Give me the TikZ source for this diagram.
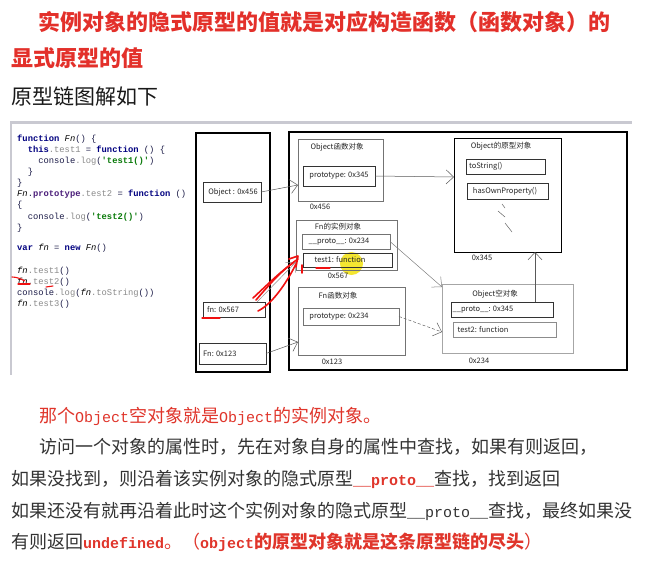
\documentclass[tikz,border=0pt]{standalone}
\usepackage{fontspec}
\setmainfont{Noto Sans CJK SC}
\newfontfamily\codefont{Liberation Mono}
\usetikzlibrary{arrows.meta,calc}
\definecolor{titlered}{HTML}{E3302A}
\definecolor{txtred}{HTML}{E0352B}
\definecolor{kwblue}{HTML}{000080}
\definecolor{propgray}{HTML}{8A8A8A}
\definecolor{strgreen}{HTML}{0A7A0A}
\definecolor{protopurple}{HTML}{4B1E7A}
\definecolor{codedark}{HTML}{1C1C48}
\definecolor{hlyellow}{HTML}{F4E631}
\definecolor{framegray}{HTML}{C9C9D1}
\definecolor{penred}{HTML}{F01010}
\definecolor{bodytext}{HTML}{333333}
\newcommand\cdkw[1]{{\bfseries\color{kwblue}#1}}
\newcommand\cdpr[1]{{\color{propgray}#1}}
\newcommand\cdsg[1]{{\bfseries\color{strgreen}#1}}
\newcommand\cdid[1]{{\itshape\color{black}#1}}
\newcommand\cdpt[1]{{\bfseries\color{protopurple}#1}}
\newcommand\cdsq{\char"27\relax}
\newcommand\bmono[1]{{\codefont\fontsize{15}{18}\selectfont #1}}
\begin{document}
\begin{tikzpicture}[x=1pt,y=-1pt,
  dbox/.style={draw=#1, line width=0.6pt, inner sep=0pt, outer sep=0pt},
  pbox/.style={draw=black!80, line width=0.6pt, inner sep=0pt, outer sep=0pt},
  dtext/.style={font=\fontsize{7.5}{9}\selectfont, text=black!85, inner sep=0pt},
  codeline/.style={anchor=base west, inner sep=0pt, font=\codefont\fontsize{8.8}{10.9}\selectfont, text=codedark},
  bodyline/.style={anchor=west, inner sep=0pt, font=\fontsize{18}{20}\selectfont, text=bodytext},
  arr/.style={draw=black!65, line width=0.5pt, -{Straight Barb[length=7.5pt,width=14pt,line width=0.5pt]}},
  redpen/.style={draw=penred, line width=1.6pt, line cap=round, line join=round}]
\useasboundingbox (0,0) rectangle (647,561);
\fill[white] (0,0) rectangle (647,561);

% ---- headings ----
\node[anchor=west, inner sep=0pt, font=\fontsize{22}{24}\selectfont\bfseries, text=titlered] (t1) at (38,22) {实例对象的隐式原型的值就是对应构造函数（函数对象）的};
\node[anchor=west, inner sep=0pt, font=\fontsize{22}{24}\selectfont\bfseries, text=titlered] (t2) at (11,58) {显式原型的值};
\node[anchor=west, inner sep=0pt, font=\fontsize{21}{23}\selectfont, text=black!90] (t3) at (11,97) {原型链图解如下};

% ---- screenshot frame ----
\coordinate (fa) at (10,123);
\coordinate (fb) at (632,123);
\coordinate (fc) at (11,375);
\draw[framegray, line width=3pt] (fa) -- (fb);
\draw[framegray, line width=1.5pt] ([yshift=-1pt]fa -| fc) -- (fc);

% ---- code ----
\node[codeline] (c0) at (17,142) {\cdkw{function} \cdid{Fn}() \{};
\node[codeline] (c1) at (17,153) {\phantom{xx}\cdkw{this}\cdpr{.test1} = \cdkw{function} () \{};
\node[codeline] (c2) at (17,164) {\phantom{xxxx}console\cdpr{.log}(\cdsg{\cdsq test1()\cdsq})};
\node[codeline] (c3) at (17,175) {\phantom{xx}\}};
\node[codeline] (c4) at (17,186) {\}};
\node[codeline] (c5) at (17,197) {\cdid{Fn}.\cdpt{prototype}\cdpr{.test2} = \cdkw{function} ()};
\node[codeline] (c6) at (17,208) {\{};
\node[codeline] (c7) at (17,219) {\phantom{xx}console\cdpr{.log}(\cdsg{\cdsq test2()\cdsq})};
\node[codeline] (c8) at (17,230) {\}};
\node[codeline] (c10) at (17,251) {\cdkw{var} \cdid{fn} = \cdkw{new} \cdid{Fn}()};
\node[codeline] (c12) at (17,273) {\cdid{fn}\cdpr{.test1}()};
\node[codeline] (c13) at (17,284) {\cdid{fn}\cdpr{.test2}()};
\node[codeline] (c14) at (17,295) {console\cdpr{.log}(\cdid{fn}\cdpr{.toString}())};
\node[codeline] (c15) at (17,306) {\cdid{fn}\cdpr{.test3}()};

% ---- highlight ----
\fill[hlyellow] (351.5,263.5) circle (11.5);

% ---- panels ----
\node[dbox=black, line width=1.5pt, minimum width=74pt, minimum height=239pt] (left) at (233,252.5) {};
\node[dbox=black, line width=1.5pt, minimum width=338pt, minimum height=238pt] (right) at (458,251) {};

% left column variables
\node[pbox, minimum width=58pt, minimum height=20pt] (obj456) at (232,192) {};
\node[dtext] (obj456t) at (233,192) {Object : 0x456};
\node[pbox, minimum width=62pt, minimum height=15pt] (fn567) at (234,309.5) {};
\node[dtext, anchor=west] (fn567t) at (207,309.5) {fn: 0x567};
\node[pbox, minimum width=67pt, minimum height=21pt] (fn123) at (232.5,353.5) {};
\node[dtext, anchor=west] (fn123t) at (203,354) {Fn: 0x123};

% Object function object
\node[dbox=black!55, minimum width=85pt, minimum height=62pt] (objfn) at (340.5,170) {};
\node[dtext] (objfnt) at (337,147) {Object函数对象};
\node[pbox, minimum width=72pt, minimum height=20pt] (proto345) at (339,176) {};
\node[dtext] (proto345t) at (339,176) {prototype: 0x345};
\node[dtext] (a456) at (320,207) {0x456};

% Object prototype object
\node[dbox=black, line width=0.9pt, minimum width=107pt, minimum height=114pt] (objproto) at (507.5,195) {};
\node[dtext] (objprotot) at (501,146) {Object的原型对象};
\node[pbox, minimum width=79pt, minimum height=15pt] (tostr) at (505.5,166.5) {};
\node[dtext, anchor=west] (tostrt) at (469,166.5) {toString()};
\node[pbox, minimum width=81pt, minimum height=16pt] (hasown) at (507.5,191) {};
\node[dtext] (hasownt) at (505,191) {hasOwnProperty()};
\node[dtext] (a345) at (482,258) {0x345};
\draw[black!60, line width=0.5pt] (502,204) -- (505,208);
\draw[black!60, line width=0.5pt] (498,211) -- (505,217);
\draw[black!60, line width=0.5pt] (505,223) -- (512,232);

% Fn instance object
\node[dbox=black!55, minimum width=101pt, minimum height=50pt] (fninst) at (346.5,245) {};
\node[dtext] (fninstt) at (338,227) {Fn的实例对象};
\node[pbox, draw=black!55, minimum width=88pt, minimum height=15pt] (iproto) at (346,241.5) {};
\node[dtext] (iprotot) at (339,241.5) {\_\_proto\_\_: 0x234};
\node[pbox, minimum width=89pt, minimum height=14pt] (itest1) at (347.5,260) {};
\node[dtext] (itest1t) at (340,260) {test1: function};
\node[dtext] (a567) at (338,276) {0x567};

% Fn function object
\node[dbox=black!55, minimum width=107pt, minimum height=68pt] (fnfunc) at (351.5,321) {};
\node[dtext] (fnfunct) at (338,296) {Fn函数对象};
\node[pbox, draw=black!55, minimum width=96pt, minimum height=17pt] (proto234) at (351,316.5) {};
\node[dtext] (proto234t) at (339,316.5) {prototype: 0x234};
\node[dtext] (a123) at (332,362) {0x123};

% Object empty object
\node[dbox=black!35, minimum width=131pt, minimum height=69pt] (objempty) at (507.5,318.5) {};
\node[dtext] (objemptyt) at (495,294) {Object空对象};
\node[pbox, line width=0.8pt, minimum width=102pt, minimum height=15pt] (eproto) at (502,309.5) {};
\node[dtext] (eprotot) at (483,309.5) {\_\_proto\_\_: 0x345};
\node[pbox, draw=black!45, minimum width=103pt, minimum height=15pt] (etest2) at (504.5,329.5) {};
\node[dtext] (etest2t) at (483,329.5) {test2: function};
\node[dtext] (a234) at (479,361) {0x234};

% ---- connectors ----
\draw[arr] (obj456.east) -- ([yshift=-15pt]objfn.west);
\draw[arr] (proto345.east) -- ([yshift=18pt]objproto.west);
\draw[arr] (fn123.east) -- ([yshift=-21pt]fnfunc.west);
\draw[arr, draw=black!45] ([xshift=-8pt]fn567.north east) -- ([yshift=-17pt]fninst.west);
\draw[arr, draw=black!50] (iproto.east) -- ([yshift=-3pt]objempty.north west);
\draw[arr, densely dashed, draw=black!60] (proto234.east) -- ([yshift=-13.5pt]objempty.west);
\draw[arr] ([xshift=33pt]eproto.north) -- ([xshift=33pt]eproto.north |- objproto.south);

% ---- red pen marks ----
\draw[redpen] (253,298) .. controls (266,286) and (282,270) .. (298,259);
\draw[redpen] (258,311) .. controls (272,304) and (286,284) .. (296,264);
\draw[redpen] (256,300) .. controls (270,284) and (280,272) .. (293,263);
\draw[redpen] (289,259) -- (298,256) -- (296,267);
\draw[redpen] (302,265) -- (302,273);
\draw[redpen, line width=1.1pt] (202,318) -- (220,318);
\draw[redpen, line width=1.1pt] (316,268) -- (330,268);
\draw[redpen, line width=1.1pt] (12,277) .. controls (17,277) and (21,279) .. (25,281);
\draw[redpen, line width=1.1pt] (18,284) -- (30,284);
\draw[redpen, line width=1.1pt] (46,287) -- (53,286);

% ---- body text ----
\node[bodyline, text=txtred] (b1) at (39,416) {那个\bmono{Object}空对象就是\bmono{Object}的实例对象。};
\node[bodyline] (b2) at (39,447) {访问一个对象的属性时，先在对象自身的属性中查找，如果有则返回，};
\node[bodyline] (b3) at (11,479) {如果没找到，则沿着该实例对象的隐式原型{\color{txtred}\bfseries\bmono{\_\_proto\_\_}}查找，找到返回};
\node[bodyline] (b4) at (11,511) {如果还没有就再沿着此时这个实例对象的隐式原型\bmono{\_\_proto\_\_}查找，最终如果没};
\node[bodyline] (b5) at (11,542) {有则返回{\color{txtred}{\bfseries\bmono{undefined}}。（{\bfseries\bmono{object}的原型对象就是这条原型链的尽头}）}};
\end{tikzpicture}
\end{document}
